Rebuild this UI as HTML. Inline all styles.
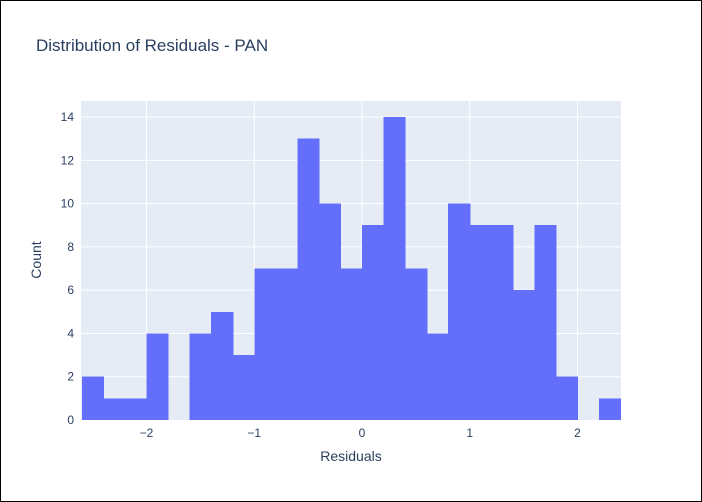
<!DOCTYPE html>
<html><head><meta charset="utf-8"><style>
body{margin:0;background:#fff}
svg{display:block;font-family:"Liberation Sans",sans-serif}
</style></head><body>
<svg id="chart" width="702" height="502">
<rect x="0.5" y="0.5" width="701" height="501" fill="#fff" stroke="#000"/>
<text x="36" y="51" font-size="17" fill="#2a3f5f">Distribution of Residuals - PAN</text>
<rect x="81" y="101" width="540" height="319" fill="#e5ecf6"/>
<g id="grid"></g><g id="bars" shape-rendering="crispEdges"></g><g id="ticks"></g>
<text x="351" y="461" font-size="14" fill="#2a3f5f" text-anchor="middle">Residuals</text>
<text x="41" y="260" font-size="14" fill="#2a3f5f" text-anchor="middle" transform="rotate(-90 41 260)">Count</text>
</svg>
<script>
const binStarts=[-2.6,-2.4,-2.2,-2.0,-1.8,-1.6,-1.4,-1.2,-1.0,-0.8,-0.6,-0.4,-0.2,0.0,0.2,0.4,0.6,0.8,1.0,1.2,1.4,1.6,1.8,2.0,2.2];
const counts=[2,1,1,4,0,4,5,3,7,7,13,10,7,9,14,7,4,10,9,9,6,9,2,0,1];
const binWidth=0.2;
const xTicks=[-2,-1,0,1,2];
const xTickLabels=["\u22122","\u22121","0","1","2"];
const yTicks=[0,2,4,6,8,10,12,14];
const NS="http://www.w3.org/2000/svg";
const X=v=>362+v*107.75;
const Y=v=>420-v*21.64;
function mk(tag,attrs,parent,text){const e=document.createElementNS(NS,tag);for(const k in attrs)e.setAttribute(k,attrs[k]);if(text!==undefined)e.textContent=text;document.getElementById(parent).appendChild(e);return e;}
yTicks.forEach(t=>{
  if(t>0){const l=mk('line',{x1:81,x2:621,y1:Y(t),y2:Y(t),stroke:'#fff','stroke-width':1},'grid');
  
  }
  const tx=mk('text',{x:74,y:Y(t)+4,'font-size':12,fill:'#2a3f5f','text-anchor':'end'},'ticks',String(t));
  
  
});
xTicks.forEach((t,i)=>{
  const l=mk('line',{x1:X(t),x2:X(t),y1:101,y2:420,stroke:'#fff','stroke-width':1},'grid');
  
  
  const tx=mk('text',{x:X(t),y:437,'font-size':12,fill:'#2a3f5f','text-anchor':'middle'},'ticks',xTickLabels[i]);
  
  
});
binStarts.forEach((b,i)=>{
  if(counts[i]<=0)return;
  const r=mk('rect',{x:X(b),y:Y(counts[i]),width:X(b+binWidth)-X(b)+0.6,height:Y(0)-Y(counts[i]),fill:'#636efa'},'bars');
  
  
});
</script>
</body></html>
